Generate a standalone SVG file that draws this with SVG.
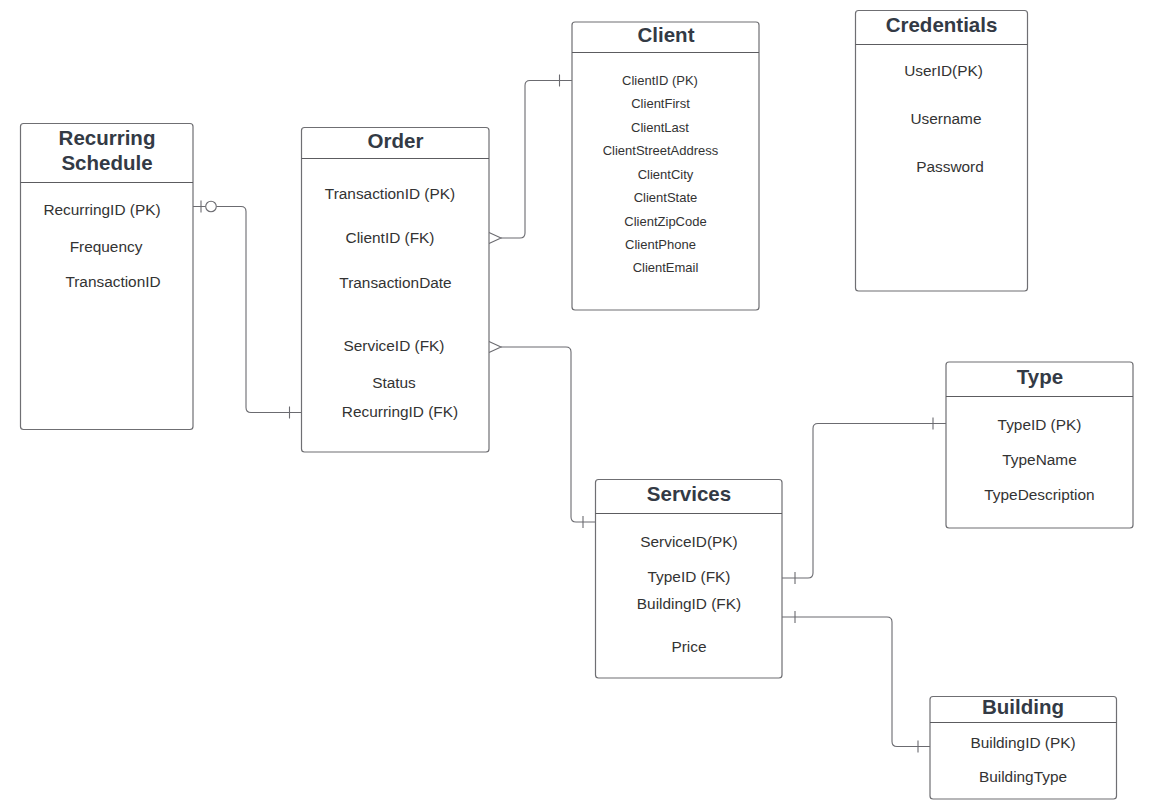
<svg xmlns="http://www.w3.org/2000/svg" width="1157" height="807" viewBox="0 0 1157 807">
<style>
.box{fill:#ffffff;stroke:#6f6f73;stroke-width:1.2}
.hdr{stroke:#5c5c60;stroke-width:1.2}
.title{font-family:"Liberation Sans",Arial,sans-serif;font-weight:bold;font-size:20.5px;fill:#333a45;text-anchor:middle}
.attr{font-family:"Liberation Sans",Arial,sans-serif;font-size:15.4px;fill:#333333;text-anchor:middle}
.sm{font-family:"Liberation Sans",Arial,sans-serif;font-size:13px;fill:#333333;text-anchor:middle}
.con{fill:none;stroke:#6b6b70;stroke-width:1.1}
</style>
<rect width="1157" height="807" fill="#ffffff"/>

<g id="connectors">
  <!-- Recurring Schedule to Order -->
  <path class="con" d="M193,206.5 H205.5 M216.5,206.5 H241 Q246,206.5 246,211.5 V407.5 Q246,412.5 251,412.5 H301.5"/>
  <circle class="con" cx="211" cy="206.5" r="5.3"/>
  <path class="con" d="M201,200.5 V212.5 M289.5,406.5 V418.5"/>
  <!-- Order to Client -->
  <path class="con" d="M501,238 H520 Q525,238 525,233 V85.5 Q525,80.5 530,80.5 H572"/>
  <path class="con" d="M489,232.5 L501,238 L489,243.5"/>
  <path class="con" d="M559.5,74.5 V86.5"/>
  <!-- Order to Services -->
  <path class="con" d="M501,347 H566 Q571,347 571,352 V517 Q571,522 576,522 H595.5"/>
  <path class="con" d="M489,341.5 L501,347 L489,352.5"/>
  <path class="con" d="M583,516 V528"/>
  <!-- Services to Type -->
  <path class="con" d="M782,578 H808 Q813,578 813,573 V428.5 Q813,423.5 818,423.5 H946"/>
  <path class="con" d="M795,572 V584 M933,417.5 V429.5"/>
  <!-- Services to Building -->
  <path class="con" d="M782,617 H887 Q892,617 892,622 V741.5 Q892,746.5 897,746.5 H930"/>
  <path class="con" d="M795,611 V623 M918,740.5 V752.5"/>
</g>

<g id="recurring-schedule">
  <rect class="box" x="20.5" y="123.5" width="172.5" height="306" rx="3"/>
  <line class="hdr" x1="20.5" y1="182.5" x2="193" y2="182.5"/>
  <text class="title" x="107" y="145">Recurring</text>
  <text class="title" x="107" y="170">Schedule</text>
  <text class="attr" x="102" y="215">RecurringID (PK)</text>
  <text class="attr" x="106" y="252">Frequency</text>
  <text class="attr" x="113" y="287">TransactionID</text>
</g>

<g id="order">
  <rect class="box" x="301.5" y="127.5" width="187.5" height="324.5" rx="3"/>
  <line class="hdr" x1="301.5" y1="158.5" x2="489" y2="158.5"/>
  <text class="title" x="395.5" y="148">Order</text>
  <text class="attr" x="390" y="199">TransactionID (PK)</text>
  <text class="attr" x="390" y="243">ClientID (FK)</text>
  <text class="attr" x="395.5" y="288">TransactionDate</text>
  <text class="attr" x="394" y="351">ServiceID (FK)</text>
  <text class="attr" x="394" y="388">Status</text>
  <text class="attr" x="400" y="417">RecurringID (FK)</text>
</g>

<g id="client">
  <rect class="box" x="572" y="22" width="187" height="288" rx="3"/>
  <line class="hdr" x1="572" y1="52.5" x2="759" y2="52.5"/>
  <text class="title" x="666" y="42">Client</text>
  <text class="sm" x="660" y="85">ClientID (PK)</text>
  <text class="sm" x="660.5" y="108">ClientFirst</text>
  <text class="sm" x="660" y="132">ClientLast</text>
  <text class="sm" x="660.5" y="155">ClientStreetAddress</text>
  <text class="sm" x="665.5" y="179">ClientCity</text>
  <text class="sm" x="665.5" y="202">ClientState</text>
  <text class="sm" x="665.5" y="226">ClientZipCode</text>
  <text class="sm" x="660.5" y="249">ClientPhone</text>
  <text class="sm" x="665.5" y="272">ClientEmail</text>
</g>

<g id="credentials">
  <rect class="box" x="855.5" y="10.5" width="172" height="280.5" rx="3"/>
  <line class="hdr" x1="855.5" y1="44.5" x2="1027.5" y2="44.5"/>
  <text class="title" x="941.5" y="32">Credentials</text>
  <text class="attr" x="943.5" y="76">UserID(PK)</text>
  <text class="attr" x="946" y="123.5">Username</text>
  <text class="attr" x="950" y="172">Password</text>
</g>

<g id="type">
  <rect class="box" x="946" y="362" width="187" height="166" rx="3"/>
  <line class="hdr" x1="946" y1="396.5" x2="1133" y2="396.5"/>
  <text class="title" x="1040" y="384">Type</text>
  <text class="attr" x="1039.5" y="430">TypeID (PK)</text>
  <text class="attr" x="1039.5" y="465">TypeName</text>
  <text class="attr" x="1039.5" y="500">TypeDescription</text>
</g>

<g id="services">
  <rect class="box" x="595.5" y="479.5" width="186.5" height="198.5" rx="3"/>
  <line class="hdr" x1="595.5" y1="513.5" x2="782" y2="513.5"/>
  <text class="title" x="689" y="501">Services</text>
  <text class="attr" x="689" y="547">ServiceID(PK)</text>
  <text class="attr" x="689" y="582">TypeID (FK)</text>
  <text class="attr" x="689" y="609">BuildingID (FK)</text>
  <text class="attr" x="689" y="652">Price</text>
</g>

<g id="building">
  <rect class="box" x="930" y="696.5" width="186.5" height="102.5" rx="3"/>
  <line class="hdr" x1="930" y1="722.5" x2="1116.5" y2="722.5"/>
  <text class="title" x="1023" y="714">Building</text>
  <text class="attr" x="1023" y="748">BuildingID (PK)</text>
  <text class="attr" x="1023" y="782">BuildingType</text>
</g>
</svg>
